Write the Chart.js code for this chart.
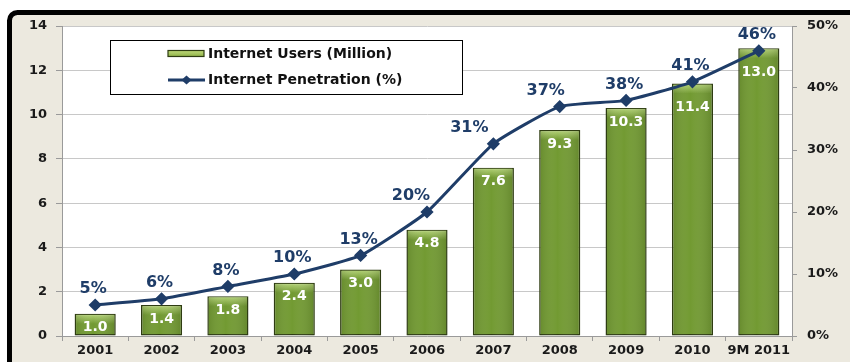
<!DOCTYPE html>
<html>
<head>
<meta charset="utf-8">
<script src="https://cdn.jsdelivr.net/npm/chart.js@4.4.1/dist/chart.umd.min.js"></script>
<style>
  html, body { margin: 0; padding: 0; background: #ffffff; }
  #wrap { width: 850px; height: 362px; position: relative; }
</style>
</head>
<body>
<div id="wrap"><canvas id="chart" width="850" height="362"></canvas></div>
<script>
// Years shown along the bottom axis
const categories = ['2001', '2002', '2003', '2004', '2005', '2006', '2007', '2008', '2009', '2010', '9M 2011'];
// Internet users, millions (left axis)
const internetUsers = [1.0, 1.4, 1.8, 2.4, 3.0, 4.8, 7.6, 9.3, 10.3, 11.4, 13.0];
// Internet penetration, percent (right axis)
const penetration = [5, 6, 8, 10, 13, 20, 31, 37, 38, 41, 46];
// Axis tick values
const leftTicks = [0, 2, 4, 6, 8, 10, 12, 14];
const rightTicks = [0, 10, 20, 30, 40, 50];

const FONT = '"DejaVu Sans", "Liberation Sans", Arial, sans-serif';
const NAVY = '#1f3d68';
const BAR_FILL = '#729a32';
const BAR_EDGE = '#2e3c12';
const BEIGE = '#ece9df';

// Frame: white page, beige panel with a thick black top/left border
const framePlugin = {
  id: 'frame',
  beforeDraw(chart) {
    const ctx = chart.ctx;
    const { left, top, right, bottom } = chart.chartArea;
    ctx.save();
    ctx.fillStyle = '#ffffff';
    ctx.fillRect(0, 0, chart.width, chart.height);
    ctx.fillStyle = BEIGE;
    ctx.beginPath();
    ctx.roundRect(9.5, 12.5, chart.width + 20, chart.height + 20, 8);
    ctx.fill();
    ctx.strokeStyle = '#000000';
    ctx.lineWidth = 5;
    ctx.stroke();
    ctx.fillStyle = '#ffffff';
    ctx.fillRect(left, top, right - left, bottom - top);
    ctx.restore();
  }
};

// Glossy shading on the bars plus value labels on bars and line points
const labelPlugin = {
  id: 'valueLabels',
  afterDatasetsDraw(chart) {
    const ctx = chart.ctx;
    const barMeta = chart.getDatasetMeta(1);
    const lineMeta = chart.getDatasetMeta(0);
    ctx.save();
    ctx.textAlign = 'center';
    ctx.textBaseline = 'middle';

    // bar value labels (white, inside the top of each bar)
    ctx.font = 'bold 14px ' + FONT;
    ctx.fillStyle = '#ffffff';
    barMeta.data.forEach((bar, i) => {
      const pt = lineMeta.data[i];
      const off = (pt.y > bar.y - 2) ? 24 : 14;
      ctx.fillText(internetUsers[i].toFixed(1), bar.x, bar.y + off);
    });

    // penetration labels above the line points
    ctx.font = 'bold 16px ' + FONT;
    ctx.fillStyle = NAVY;
    lineMeta.data.forEach((pt, i) => {
      const leftSlope = i > 0 ? penetration[i] - penetration[i - 1] : 0;
      const dx = leftSlope >= 6 ? -(2 * leftSlope + 2) : -2;
      ctx.fillText(penetration[i] + '%', pt.x + dx, pt.y - 16);
    });
    ctx.restore();
  },
  afterDatasetDraw(chart, args) {
    if (args.index !== 1) return;
    const ctx = chart.ctx;
    ctx.save();
    chart.getDatasetMeta(1).data.forEach(bar => {
      const w = bar.width;
      const x0 = bar.x - w / 2;
      const g = ctx.createLinearGradient(0, bar.y, 0, bar.y + 10);
      g.addColorStop(0, 'rgba(200,228,140,0.8)');
      g.addColorStop(1, 'rgba(200,228,140,0)');
      ctx.fillStyle = g;
      ctx.fillRect(x0 + 1.5, bar.y + 1, w - 3, 9);
      const h = ctx.createLinearGradient(x0, 0, x0 + w, 0);
      h.addColorStop(0, 'rgba(40,60,10,0.18)');
      h.addColorStop(0.45, 'rgba(255,255,255,0)');
      h.addColorStop(1, 'rgba(40,60,10,0.22)');
      ctx.fillStyle = h;
      ctx.fillRect(x0 + 1, bar.y + 1, w - 2, bar.base - bar.y - 1);
    });
    ctx.restore();
  }
};

// Boxed legend drawn inside the plot area
const boxLegendPlugin = {
  id: 'boxLegend',
  afterDraw(chart) {
    const ctx = chart.ctx;
    const bx = 110.5, by = 40.5, bw = 352, bh = 54;
    ctx.save();
    ctx.fillStyle = '#ffffff';
    ctx.fillRect(bx, by, bw, bh);
    ctx.strokeStyle = '#000000';
    ctx.lineWidth = 1;
    ctx.strokeRect(bx, by, bw, bh);

    const sx = 168, tx = 208;
    const barDs = chart.data.datasets[1];
    const lineDs = chart.data.datasets[0];
    // bar swatch
    const g = ctx.createLinearGradient(0, 50, 0, 57);
    g.addColorStop(0, '#c3dc7e');
    g.addColorStop(1, '#8cb044');
    ctx.fillStyle = g;
    ctx.fillRect(sx, 50.5, 36, 6);
    ctx.strokeStyle = BAR_EDGE;
    ctx.lineWidth = 1.2;
    ctx.strokeRect(sx, 50.5, 36, 6);
    // line swatch
    ctx.strokeStyle = lineDs.borderColor;
    ctx.lineWidth = 3;
    ctx.beginPath();
    ctx.moveTo(sx, 80);
    ctx.lineTo(sx + 37, 80);
    ctx.stroke();
    ctx.fillStyle = lineDs.borderColor;
    ctx.beginPath();
    ctx.moveTo(sx + 18.5, 75.5);
    ctx.lineTo(sx + 23.5, 80);
    ctx.lineTo(sx + 18.5, 84.5);
    ctx.lineTo(sx + 13.5, 80);
    ctx.closePath();
    ctx.fill();

    ctx.fillStyle = '#111111';
    ctx.font = 'bold 14px ' + FONT;
    ctx.textAlign = 'left';
    ctx.textBaseline = 'middle';
    ctx.fillText(barDs.label, tx, 54);
    ctx.fillText(lineDs.label, tx, 80);
    ctx.restore();
  }
};

new Chart(document.getElementById('chart'), {
  data: {
    labels: categories,
    datasets: [
      {
        type: 'line',
        label: 'Internet Penetration (%)',
        data: penetration,
        yAxisID: 'y1',
        borderColor: NAVY,
        backgroundColor: NAVY,
        borderWidth: 3,
        tension: 0.15,
        pointStyle: 'rectRot',
        pointRadius: 4.5,
        pointBackgroundColor: NAVY,
        pointBorderColor: NAVY,
        order: 0
      },
      {
        type: 'bar',
        label: 'Internet Users (Million)',
        data: internetUsers,
        yAxisID: 'y',
        backgroundColor: BAR_FILL,
        borderColor: BAR_EDGE,
        borderWidth: 1.5,
        borderSkipped: false,
        barPercentage: 0.62,
        categoryPercentage: 1.0,
        order: 1
      }
    ]
  },
  options: {
    responsive: false,
    animation: false,
    devicePixelRatio: 1,
    layout: { padding: { left: 12, top: 26, right: 0, bottom: 0 } },
    plugins: {
      legend: { display: false },
      tooltip: { enabled: false }
    },
    scales: {
      x: {
        offset: true,
        grid: {
          offset: true,
          drawOnChartArea: false,
          drawTicks: true,
          tickLength: 5,
          tickColor: '#9a9a9a'
        },
        border: { color: '#9a9a9a', width: 1 },
        ticks: {
          color: '#1a1a1a',
          font: { family: FONT, size: 13, weight: 'bold' },
          padding: 2,
          maxRotation: 0,
          autoSkip: false
        },
        afterFit(scale) { scale.height = 26; }
      },
      y: {
        position: 'left',
        min: 0,
        max: 14,
        afterBuildTicks(scale) { scale.ticks = leftTicks.map(v => ({ value: v })); },
        grid: {
          color: '#c8c8c8',
          lineWidth: 1,
          tickLength: 6,
          tickColor: '#9a9a9a'
        },
        border: { color: '#9a9a9a', width: 1 },
        ticks: {
          color: '#1a1a1a',
          font: { family: FONT, size: 13, weight: 'bold' },
          padding: 9
        },
        afterFit(scale) { scale.width = 50; }
      },
      y1: {
        position: 'right',
        min: 0,
        max: 50,
        afterBuildTicks(scale) { scale.ticks = rightTicks.map(v => ({ value: v })); },
        grid: {
          drawOnChartArea: false,
          tickLength: 5,
          tickColor: '#9a9a9a'
        },
        border: { color: '#9a9a9a', width: 1 },
        ticks: {
          color: '#1a1a1a',
          font: { family: FONT, size: 13, weight: 'bold' },
          padding: 10,
          callback: v => v + '%'
        },
        afterFit(scale) { scale.width = 58; }
      }
    }
  },
  plugins: [framePlugin, labelPlugin, boxLegendPlugin]
});
</script>
</body>
</html>
